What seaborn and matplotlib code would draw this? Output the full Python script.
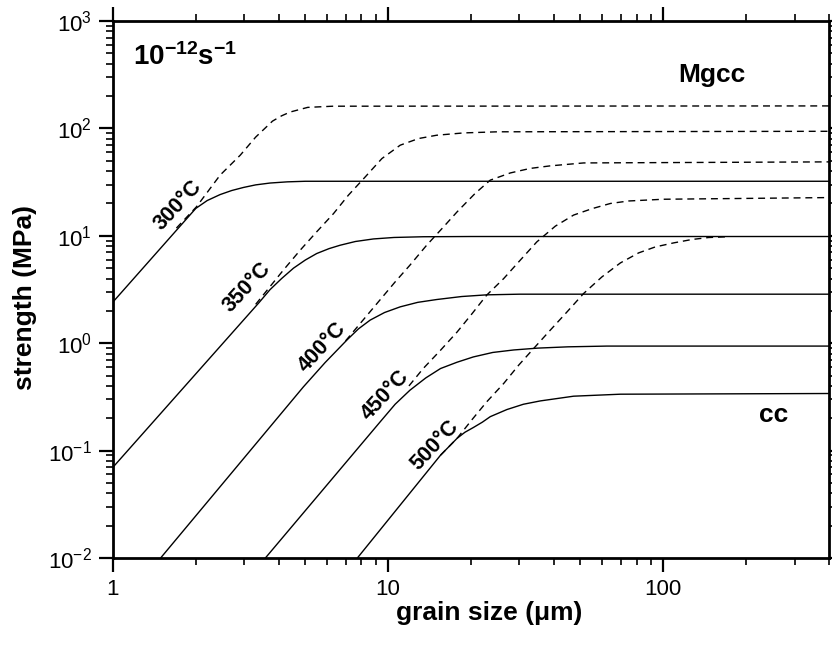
import numpy as np
import pandas as pd
import matplotlib
matplotlib.use("Agg")
import matplotlib.pyplot as plt
import matplotlib.ticker as mticker
import seaborn as sns

# ---------------- data ----------------
temps = ["300°C", "350°C", "400°C", "450°C", "500°C"]

# cc (solid)
cc300_x = [1.0, 2.0, 2.2, 2.45, 2.7, 2.98, 3.3, 3.72, 4.3, 5.0, 400]
cc300_y = [2.42, 18.0, 21.3, 24.2, 26.4, 28.2, 29.8, 31.0, 31.8, 32.2, 32.2]
cc350_x = [1.0, 2.98, 3.4, 3.72, 4.1, 4.53, 5.0, 5.5, 6.1, 6.69, 7.6, 8.84, 10.5, 13.4, 20, 400]
cc350_y = [0.070, 1.64, 2.4, 3.15, 4.0, 5.0, 5.95, 6.84, 7.6, 8.17, 8.85, 9.35, 9.65, 9.8, 9.85, 9.85]
cc400_x = [1.49, 4.92, 5.9, 7.08, 7.8, 8.6, 9.7, 11.06, 12.8, 15.0, 18.5, 22.8, 30, 400]
cc400_y = [0.01, 0.392, 0.66, 1.07, 1.36, 1.64, 1.93, 2.18, 2.40, 2.55, 2.72, 2.82, 2.86, 2.86]
cc450_x = [3.58, 9.35, 10.6, 12.0, 13.7, 15.5, 17.8, 20.4, 24, 28.6, 35, 45, 62.4, 400]
cc450_y = [0.01, 0.185, 0.27, 0.365, 0.475, 0.581, 0.665, 0.745, 0.82, 0.865, 0.90, 0.925, 0.94, 0.94]
cc500_x = [7.73, 15.5, 17.8, 19.0, 20.4, 22.0, 23.5, 27.0, 31.0, 35.7, 47.2, 69.8, 400]
cc500_y = [0.01, 0.0906, 0.13, 0.148, 0.164, 0.184, 0.207, 0.241, 0.27, 0.29, 0.321, 0.335, 0.34]

# Mgcc (dashed)
mg300_x = [1.7, 2.01, 2.45, 2.9, 3.3, 3.8, 4.1, 4.4, 5.1, 6.3, 400]
mg300_y = [11.8, 18.6, 36.7, 56.3, 83, 117, 131, 142, 157, 161, 162]
mg350_x = [3.3, 4.16, 4.79, 5.5, 6.33, 7.17, 8.25, 9.49, 11.06, 12.9, 15.0, 18.8, 25, 400]
mg350_y = [2.3, 4.79, 7.35, 10.9, 16.1, 23.9, 35.3, 52.4, 69.8, 80.5, 86.4, 90.8, 93, 94]
mg400_x = [7.0, 10.6, 12.0, 13.8, 15.7, 17.8, 20.7, 23.5, 27.8, 32.8, 38.8, 51.3, 400]
mg400_y = [1.05, 3.72, 5.33, 8.17, 11.7, 16.7, 24.8, 33.0, 38.5, 42.4, 44.8, 47.7, 48.8]
mg450_x = [11.9, 13.4, 15.5, 17.8, 20.2, 22.8, 26.3, 30.2, 34.7, 40.5, 47.2, 55.1, 64.2, 74.8, 100, 400]
mg450_y = [0.40, 0.58, 0.86, 1.27, 1.89, 2.80, 4.0, 5.93, 8.78, 12.3, 15.6, 17.9, 20.0, 21.1, 21.9, 22.7]
mg500_x = [15.5, 17.8, 20.2, 22.8, 26.3, 29.8, 34.2, 38.8, 44.7, 51.3, 59.8, 69.8, 81.3, 93.5, 109, 127, 146, 172]
mg500_y = [0.0906, 0.13, 0.195, 0.284, 0.422, 0.624, 0.924, 1.32, 1.96, 2.90, 4.14, 5.59, 6.93, 7.88, 8.59, 9.24, 9.64, 9.8]

# label positions (grain size, strength) for temperature labels
label_x = [1.72, 3.06, 5.74, 9.75, 14.8]
label_y = [19.3, 3.29, 0.924, 0.328, 0.112]

x_ticks = [1, 10, 100]
x_ticklabels = ["1", "10", "100"]
y_ticks = [1e-2, 1e-1, 1e0, 1e1, 1e2, 1e3]
y_ticklabels = [r"$10^{-2}$", r"$10^{-1}$", r"$10^{0}$", r"$10^{1}$", r"$10^{2}$", r"$10^{3}$"]

# ---------------- build long table ----------------
cc_sets = [(cc300_x, cc300_y), (cc350_x, cc350_y), (cc400_x, cc400_y),
           (cc450_x, cc450_y), (cc500_x, cc500_y)]
mg_sets = [(mg300_x, mg300_y), (mg350_x, mg350_y), (mg400_x, mg400_y),
           (mg450_x, mg450_y), (mg500_x, mg500_y)]
rows = []
for t, (xs, ys) in zip(temps, cc_sets):
    for xv, yv in zip(xs, ys):
        rows.append(dict(grain=xv, strength=yv, material="cc", curve="cc" + t))
for t, (xs, ys) in zip(temps, mg_sets):
    for xv, yv in zip(xs, ys):
        rows.append(dict(grain=xv, strength=yv, material="Mgcc", curve="Mgcc" + t))
df = pd.DataFrame(rows)

# ---------------- style ----------------
sns.set_theme(style="ticks", rc={"text.color": "black", "axes.labelcolor": "black",
                                 "xtick.color": "black", "ytick.color": "black",
                                 "axes.edgecolor": "black"})
plt.rcParams["font.family"] = ["Liberation Sans", "DejaVu Sans"]
plt.rcParams["mathtext.fontset"] = "custom"
plt.rcParams["mathtext.rm"] = "Liberation Sans"
plt.rcParams["mathtext.bf"] = "Liberation Sans:bold"
plt.rcParams["mathtext.it"] = "Liberation Sans:italic"

fig, ax = plt.subplots(figsize=(8.32, 6.47), dpi=100)
fig.subplots_adjust(left=0.1358, right=0.9964, bottom=0.1376, top=0.9675)

sns.lineplot(data=df, x="grain", y="strength", units="curve", style="material",
             estimator=None, sort=False, color="black",
             dashes={"cc": "", "Mgcc": (5, 3.5)}, linewidth=1.0,
             legend=False, ax=ax)

ax.set_xscale("log")
ax.set_yscale("log")
ax.set_xlim(1, 400)
ax.set_ylim(1e-2, 1e3)

ax.set_xticks(x_ticks)
ax.set_xticklabels(x_ticklabels)
ax.set_yticks(y_ticks)
ax.set_yticklabels(y_ticklabels)
ax.xaxis.set_minor_locator(mticker.LogLocator(base=10, subs=np.arange(2, 10), numticks=50))
ax.yaxis.set_minor_locator(mticker.LogLocator(base=10, subs=np.arange(2, 10), numticks=50))
ax.xaxis.set_minor_formatter(mticker.NullFormatter())
ax.yaxis.set_minor_formatter(mticker.NullFormatter())

ax.tick_params(which="both", direction="out", top=True, right=True,
               labeltop=False, labelright=False, colors="black")
ax.tick_params(which="major", length=10, width=1.6, labelsize=16, pad=5)
ax.tick_params(which="minor", length=5, width=1.2)
for sp in ax.spines.values():
    sp.set_linewidth(2.0)
    sp.set_color("black")

ax.set_xlabel("grain size (μm)", fontsize=19, fontweight="bold", color="black")
ax.set_ylabel("strength (MPa)", fontsize=19, fontweight="bold", color="black")
ax.xaxis.set_label_coords(0.525, -0.08)
ax.yaxis.set_label_coords(-0.106, 0.485)

for t, lx, ly in zip(temps, label_x, label_y):
    ax.text(lx, ly, t, rotation=47, rotation_mode="anchor", ha="center", va="center",
            fontsize=15.5, fontweight="bold", color="black")

ax.text(0.028, 0.918, r"$\mathbf{10^{-12}s^{-1}}$", transform=ax.transAxes,
        ha="left", va="baseline", fontsize=20, color="black")
ax.text(0.837, 0.899, "Mgcc", transform=ax.transAxes, ha="center", va="center",
        fontsize=19, fontweight="bold", color="black")
ax.text(0.922, 0.266, "cc", transform=ax.transAxes, ha="center", va="center",
        fontsize=19, fontweight="bold", color="black")

fig.savefig("out.png", dpi=100, facecolor="white")
